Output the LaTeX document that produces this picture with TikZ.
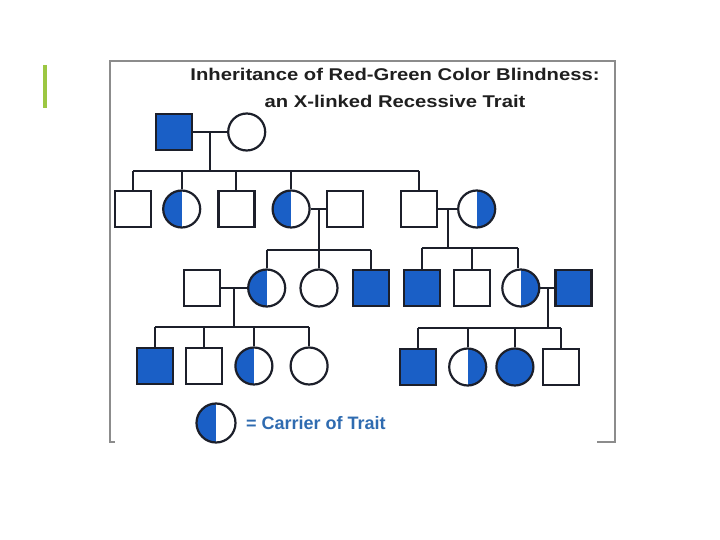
\documentclass[tikz,border=0pt]{standalone}
\usepackage{fontspec}
\setmainfont{Liberation Sans}
\usepackage{tikz}
\usetikzlibrary{positioning}
\definecolor{traitblue}{HTML}{1A5FC6}
\definecolor{edgeink}{HTML}{1C1F2A}
\definecolor{frameGrey}{HTML}{8C8C8C}
\definecolor{barGreen}{HTML}{9CC742}
\definecolor{keyBlue}{HTML}{2F6BB0}
\tikzset{
    person/.style={draw=edgeink, line width=2.2pt, inner sep=0pt, fill=white},
    male/.style={person, rectangle, minimum size=36pt},
    female/.style={person, circle, minimum size=37pt},
    maleAff/.style={male, fill=traitblue},
    femaleAff/.style={female, fill=traitblue},
    carrierL/.style={female, path picture={\fill[traitblue] (path picture bounding box.south west) rectangle (path picture bounding box.north);}},
    carrierR/.style={female, path picture={\fill[traitblue] (path picture bounding box.south) rectangle (path picture bounding box.north east);}},
    line/.style={draw=edgeink, line width=2pt},
    titleText/.style={align=center, font=\bfseries\fontsize{17}{27}\selectfont, text=black!88, xscale=1.19},
    keyText/.style={font=\bfseries\fontsize{18}{20}\selectfont, text=keyBlue}
}

\begin{document}
\begin{tikzpicture}[x=1pt, y=-1pt]
    \useasboundingbox (0,0) rectangle (720,540);

    % Frame and bar
    \draw[frameGrey, line width=1.8pt] (597,442) -- (615,442) -- (615,61) -- (110,61) -- (110,442) -- (115,442);
    \draw[barGreen, line width=3.5pt] (45,65) -- (45,108);

    % Title
    \node [titleText] (ttl) at (395,88) {Inheritance of Red-Green Color Blindness:\\an X-linked Recessive Trait};

    % Generation I
    \node [maleAff] (f1) at (174,132) {};
    \node [female, right=34pt of f1] (mo1) {};

    % Generation II
    \node [male] (a1) at (133,209) {};
    \node [carrierL, right=10pt of a1] (a2) {};
    \node [male, right=16pt of a2] (a3) {};
    \node [carrierL, right=16pt of a3] (a4) {};
    \node [male, right=15pt of a4] (a5) {};
    \node [male] (a6) at (419,209) {};
    \node [carrierR, right=19pt of a6] (a7) {};

    % Generation III
    \node [male] (b1) at (202,288) {};
    \node [carrierL, right=26pt of b1] (b2) {};
    \node [female] (b3) at (319,288) {};
    \node [maleAff, right=13pt of b3] (b4) {};
    \node [maleAff, right=13pt of b4] (b5) {};
    \node [male, right=12pt of b5] (b6) {};
    \node [carrierR, right=10pt of b6] (b7) {};
    \node [maleAff, right=14pt of b7] (b8) {};

    % Generation IV
    \node [maleAff] (c1) at (155,366) {};
    \node [male, right=11pt of c1] (c2) {};
    \node [carrierL, right=11pt of c2] (c3) {};
    \node [female, right=16pt of c3] (c4) {};
    \node [maleAff] (c5) at (418,367) {};
    \node [carrierR, right=11pt of c5] (c6) {};
    \node [femaleAff, right=8pt of c6] (c7) {};
    \node [male, right=7pt of c7] (c8) {};

    % Key
    \node [carrierL, minimum size=39pt] (key) at (216,423) {};
    \node [keyText, right=6pt of key] (keyLabel) {= Carrier of Trait};

    % Matings and sibships
    \coordinate (sib1) at (210,171);
    \coordinate (sib2) at (319,250);
    \coordinate (sib3) at (448,248);
    \coordinate (sib4) at (234,327);
    \coordinate (sib5) at (548,328);

    \path [line] (f1) -- (mo1);
    \path [line] (a4) -- (a5);
    \path [line] (a6) -- (a7);
    \path [line] (b1) -- (b2);
    \path [line] (b7) -- (b8);

    \draw [line] (sib1 |- f1) -- (sib1);
    \draw [line] (b3.north |- a4) -- (b3.north);
    \draw [line] (sib3 |- a6) -- (sib3);
    \draw [line] (sib4 |- b1) -- (sib4);
    \draw [line] (sib5 |- b7) -- (sib5);

    \draw [line] (a1.north |- sib1) -- (a6.north |- sib1);
    \draw [line] (b2.north |- sib2) -- (b4.north |- sib2);
    \draw [line] (b5.north |- sib3) -- ([xshift=-3pt]b7.north |- sib3);
    \draw [line] (c1.north |- sib4) -- (c4.north |- sib4);
    \draw [line] (c5.north |- sib5) -- (c8.north |- sib5);

    \foreach \k in {a1,a2,a3,a4,a6} \draw [line] (\k.north |- sib1) -- (\k.north);
    \foreach \k in {b2,b4} \draw [line] (\k.north |- sib2) -- (\k.north);
    \foreach \k in {b5,b6} \draw [line] (\k.north |- sib3) -- (\k.north);
    \draw [line] ([xshift=-3pt]b7.north |- sib3) -- ([xshift=-3pt]b7.north);
    \foreach \k in {c1,c2,c3,c4} \draw [line] (\k.north |- sib4) -- (\k.north);
    \foreach \k in {c5,c6,c7,c8} \draw [line] (\k.north |- sib5) -- (\k.north);
\end{tikzpicture}
\end{document}
